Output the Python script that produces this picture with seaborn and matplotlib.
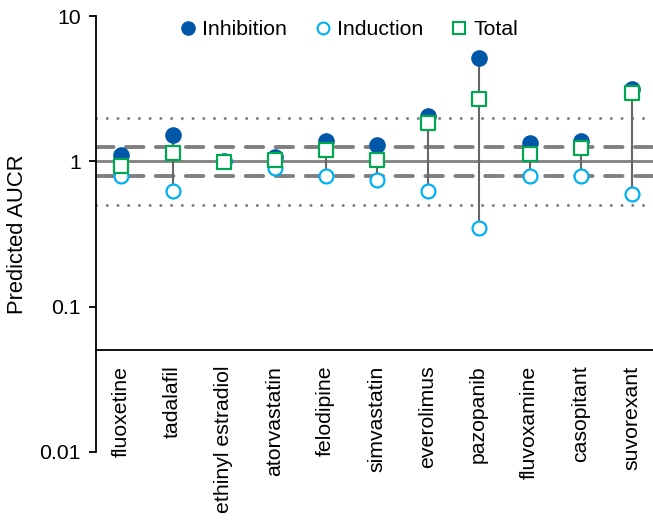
import numpy as np
import pandas as pd
import matplotlib
matplotlib.use("Agg")
import matplotlib.pyplot as plt
import seaborn as sns
from matplotlib.lines import Line2D

# --- data ---
drugs = ['fluoxetine', 'tadalafil', 'ethinyl estradiol', 'atorvastatin', 'felodipine',
         'simvastatin', 'everolimus', 'pazopanib', 'fluvoxamine', 'casopitant', 'suvorexant']
inhibition = [1.10, 1.53, 1.00, 1.07, 1.39, 1.29, 2.07, 5.12, 1.33, 1.39, 3.15]
induction = [0.80, 0.63, 1.00, 0.90, 0.79, 0.75, 0.63, 0.35, 0.80, 0.79, 0.60]
total = [0.93, 1.15, 0.99, 1.03, 1.19, 1.03, 1.85, 2.71, 1.12, 1.23, 2.98]

df = pd.DataFrame({'drug': drugs, 'Inhibition': inhibition,
                   'Induction': induction, 'Total': total})
df['pos'] = np.arange(len(drugs))

sns.set_style("ticks")
plt.rcParams['font.family'] = ['Liberation Sans', 'DejaVu Sans']
plt.rcParams['text.color'] = 'black'
plt.rcParams['axes.labelcolor'] = 'black'

c_inh = '#0057a8'
c_ind = '#00b0f0'
c_tot = '#00a651'
grey = '#808080'
FS = 15.3

fig = plt.figure(figsize=(6.53, 5.23), dpi=100)
ax = fig.add_axes([0.147, 0.136, 0.853, 0.833])
ax.set_yscale('log')
ax.set_ylim(0.01, 10)
ax.set_xlim(-0.5, 10.42)

# reference bands
ax.axhline(1.0, color=grey, lw=2.0, zorder=1)
for y in (1.25, 0.8):
    ax.axhline(y, color=grey, lw=2.8, ls=(0, (4.5, 3.2)), dash_capstyle='round', zorder=1)
for y in (2.0, 0.5):
    ax.axhline(y, color=grey, lw=2.2, ls=(0, (0.01, 3.5)), dash_capstyle='round', zorder=1)

# stems from min to max
lo = df[['Inhibition', 'Induction', 'Total']].min(axis=1)
hi = df[['Inhibition', 'Induction', 'Total']].max(axis=1)
ax.vlines(df['pos'], lo, hi, color='#666666', lw=1.5, zorder=2)

sns.scatterplot(data=df, x='pos', y='Inhibition', ax=ax, marker='o', s=120,
                color=c_inh, edgecolor=c_inh, linewidth=1, zorder=3, legend=False)
sns.scatterplot(data=df, x='pos', y='Induction', ax=ax, marker='o', s=100,
                facecolor='white', edgecolor=c_ind, linewidth=1.6, zorder=4, legend=False)
sns.scatterplot(data=df, x='pos', y='Total', ax=ax, marker='s', s=100,
                facecolor='white', edgecolor=c_tot, linewidth=1.6, zorder=5, legend=False)

# axes styling
sns.despine(ax=ax, top=True, right=True)
ax.spines['bottom'].set_position(('data', 0.05))
ax.spines['left'].set_linewidth(1.3)
ax.spines['bottom'].set_linewidth(1.3)
ax.spines['left'].set_color('black')
ax.spines['bottom'].set_color('black')

ax.set_yticks([0.01, 0.1, 1, 10])
ax.set_yticklabels(['0.01', '0.1', '1', '10'])
ax.yaxis.set_minor_locator(matplotlib.ticker.NullLocator())
ax.tick_params(axis='y', length=5, width=1.3, labelsize=FS, pad=6, colors='black')
ax.set_xticks(df['pos'])
ax.set_xticklabels(drugs, rotation=90, fontsize=FS, va='top', ha='center')
ax.tick_params(axis='x', length=0, pad=11, labelcolor='black')

ax.set_xlabel('')
ax.set_ylabel('Predicted AUCR', fontsize=FS + 0.5, labelpad=8)

handles = [
    Line2D([], [], ls='none', marker='o', ms=9.5, color=c_inh),
    Line2D([], [], ls='none', marker='o', ms=8.5, mfc='white', mec=c_ind, mew=1.5),
    Line2D([], [], ls='none', marker='s', ms=8.5, mfc='white', mec=c_tot, mew=1.5),
]
ax.legend(handles, ['Inhibition', 'Induction', 'Total'], loc='upper center',
          bbox_to_anchor=(0.45, 1.035), ncol=3, frameon=False, fontsize=FS,
          handletextpad=0.05, columnspacing=1.1, handlelength=1.2)

fig.savefig('out.png', dpi=100)
